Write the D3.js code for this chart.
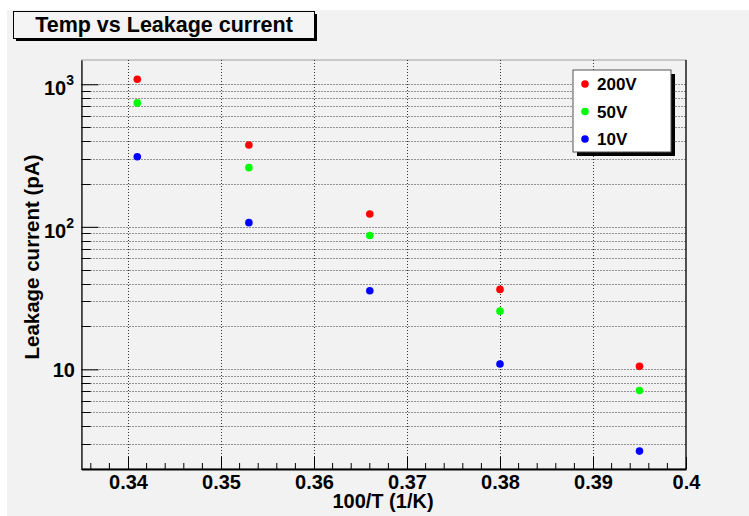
<!DOCTYPE html>
<html>
<head>
<meta charset="utf-8">
<script src="https://cdn.jsdelivr.net/npm/d3@7"></script>
<style>
  html, body { margin: 0; padding: 0; background: #ffffff; }
  svg { display: block; font-family: "Liberation Sans", Arial, sans-serif; font-weight: bold; }
</style>
</head>
<body>
<svg id="chart" width="749" height="516"></svg>
<script>
// Inverse temperature (100/T) for each measurement
const invTemp = [0.341, 0.353, 0.366, 0.380, 0.395];
// Leakage current (pA) at each bias voltage
const leak200V = [1085, 375, 123, 36.4, 10.5];
const leak50V = [740, 260, 87, 25.6, 7.1];
const leak10V = [310, 107, 35.6, 10.9, 2.67];
const seriesNames = ["200V", "50V", "10V"];
const seriesColors = ["#ff0000", "#00ff00", "#0000ff"];
const xTickValues = [0.34, 0.35, 0.36, 0.37, 0.38, 0.39, 0.4];

const series = [leak200V, leak50V, leak10V].map((vals, i) => ({
  name: seriesNames[i], color: seriesColors[i],
  points: vals.map((v, j) => ({ x: invTemp[j], y: v }))
}));

const svg = d3.select("#chart");
const W = 749, H = 516;
const frame = { left: 81.5, right: 686, top: 60, bottom: 469 };
const FONT = "Liberation Sans, Arial, sans-serif";

// canvas background
svg.append("rect").attr("x", 7).attr("y", 10).attr("width", W - 7).attr("height", H - 10)
  .attr("fill", "#f2f2f2");

const x = d3.scaleLinear().domain([0.335, 0.4]).range([frame.left, frame.right]);
const y = d3.scaleLog().domain([2, 1480]).range([frame.bottom, frame.top]);

// frame outline
svg.append("rect").attr("x", frame.left).attr("y", frame.top)
  .attr("width", frame.right - frame.left).attr("height", frame.bottom - frame.top)
  .attr("fill", "none").attr("stroke", "#a0a0a0").attr("stroke-width", 1);

// y tick positions: decades and the 2..9 minors inside the range
const yMajor = [10, 100, 1000];
const yMinor = [];
[1, 10, 100].forEach(dec => { for (let k = 2; k <= 9; k++) { const v = k * dec; if (v >= 2 && v <= 1480) yMinor.push(v); } });
const xMinor = d3.range(0.336, 0.4001, 0.002).filter(v => Math.abs(v * 100 - Math.round(v * 100)) > 1e-6);

// grid
const grid = svg.append("g").attr("stroke", "#333").attr("stroke-width", 1).attr("stroke-dasharray", "1,2");
xTickValues.slice(0, -1).forEach(v => {
  grid.append("line").attr("x1", Math.round(x(v)) + 0.5).attr("x2", Math.round(x(v)) + 0.5)
    .attr("y1", frame.top).attr("y2", frame.bottom);
});
yMajor.concat(yMinor).forEach(v => {
  const yy = Math.round(y(v)) + 0.5;
  grid.append("line").attr("x1", frame.left).attr("x2", frame.right).attr("y1", yy).attr("y2", yy);
});

// x axis (ticks drawn inward)
const xAxis = d3.axisBottom(x).tickValues(xTickValues).tickSize(-12).tickSizeOuter(0)
  .tickFormat(d => d === 0.4 ? "0.4" : d3.format(".2f")(d));
const gx = svg.append("g").attr("transform", `translate(0,${frame.bottom})`).call(xAxis);
gx.select(".domain").attr("stroke", "#000").attr("stroke-width", 2);
gx.selectAll(".tick line").attr("stroke", "#000");
gx.selectAll(".tick text").attr("font-size", 20).attr("font-weight", "bold")
  .attr("font-family", FONT).attr("fill", "#000").attr("y", 20).attr("dy", 0);
const gxm = svg.append("g");
xMinor.forEach(v => {
  gxm.append("line").attr("x1", x(v)).attr("x2", x(v)).attr("y1", frame.bottom).attr("y2", frame.bottom - 6)
    .attr("stroke", "#000");
});

// y axis (ticks drawn inward)
const yAxis = d3.axisLeft(y).tickValues(yMajor).tickSize(-17).tickSizeOuter(0).tickFormat("");
const gy = svg.append("g").attr("transform", `translate(${frame.left},0)`).call(yAxis);
gy.select(".domain").attr("stroke", "#000").attr("stroke-width", 1.2);
gy.selectAll(".tick line").attr("stroke", "#000");
yMinor.forEach(v => {
  gy.append("line").attr("x1", 0).attr("x2", 9).attr("y1", Math.round(y(v)) + 0.5).attr("y2", Math.round(y(v)) + 0.5)
    .attr("stroke", "#000");
});
// y tick labels in powers of ten
const yLabels = [{ v: 10, exp: null }, { v: 100, exp: "2" }, { v: 1000, exp: "3" }];
yLabels.forEach(l => {
  const t = svg.append("text").attr("text-anchor", "end").attr("font-size", 20).attr("fill", "#000")
    .attr("x", l.exp ? 74 : 75).attr("y", y(l.v) + (l.exp ? 11 : 8));
  t.append("tspan").text("10");
  if (l.exp) t.append("tspan").attr("font-size", 14).attr("dy", -10).text(l.exp);
});

// right frame edge
svg.append("line").attr("x1", frame.right).attr("x2", frame.right).attr("y1", frame.top).attr("y2", frame.bottom)
  .attr("stroke", "#000").attr("stroke-width", 1.2);

// axis titles
svg.append("text").attr("x", 383).attr("y", 508).attr("text-anchor", "middle")
  .attr("font-size", 20).attr("fill", "#000").text("100/T (1/K)");
svg.append("text").attr("transform", `translate(39,257) rotate(-90)`)
  .attr("text-anchor", "middle").attr("font-size", 20.5).attr("fill", "#000").text("Leakage current (pA)");

// data markers
series.forEach(s => {
  svg.append("g").selectAll("circle").data(s.points).join("circle")
    .attr("cx", d => x(d.x)).attr("cy", d => y(d.y)).attr("r", 3.8).attr("fill", s.color);
});

// legend
const lg = { x: 573, y: 70, w: 98, h: 82 };
svg.append("rect").attr("x", lg.x + 4).attr("y", lg.y + 4).attr("width", lg.w).attr("height", lg.h).attr("fill", "#000");
svg.append("rect").attr("x", lg.x).attr("y", lg.y).attr("width", lg.w).attr("height", lg.h)
  .attr("fill", "#ffffff").attr("stroke", "#555").attr("stroke-width", 1);
series.forEach((s, i) => {
  const cy = 84 + i * 27.5;
  svg.append("circle").attr("cx", 585).attr("cy", cy).attr("r", 3.8).attr("fill", s.color);
  svg.append("text").attr("x", 597).attr("y", cy + 6).attr("font-size", 17).attr("fill", "#000").text(s.name);
});

// title box
const tb = { x: 13.5, y: 11.5, w: 301, h: 27 };
svg.append("rect").attr("x", tb.x + 2.5).attr("y", tb.y + 2.5).attr("width", tb.w).attr("height", tb.h).attr("fill", "#000");
svg.append("rect").attr("x", tb.x).attr("y", tb.y).attr("width", tb.w).attr("height", tb.h)
  .attr("fill", "#f4f4f4").attr("stroke", "#000").attr("stroke-width", 1);
svg.append("text").attr("x", tb.x + tb.w / 2).attr("y", 31.5).attr("text-anchor", "middle")
  .attr("font-size", 21.5).attr("fill", "#000").text("Temp vs Leakage current");
</script>
</body>
</html>
